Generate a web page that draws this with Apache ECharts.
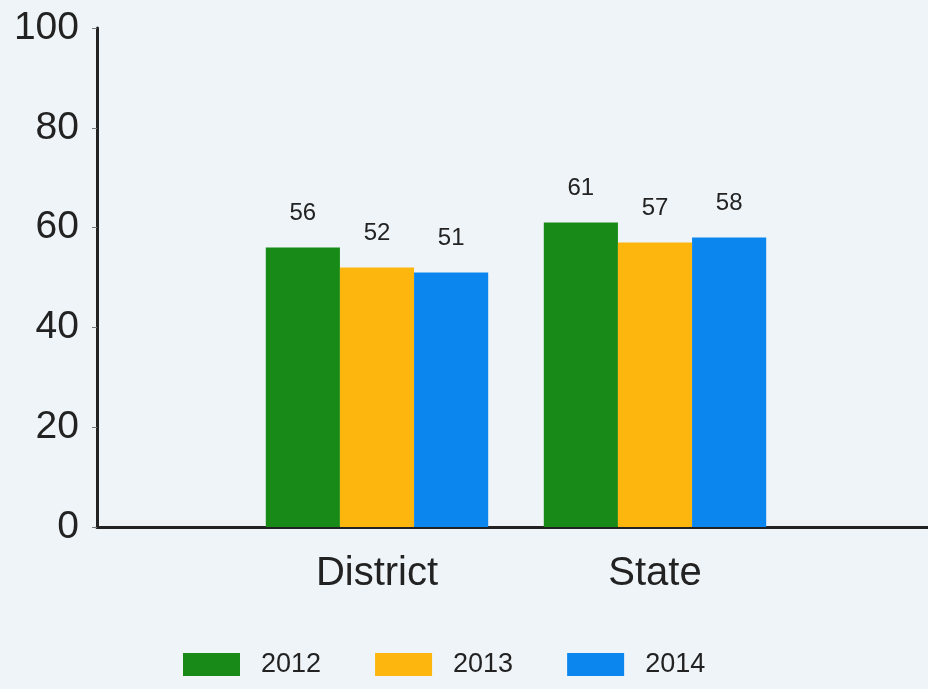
<!DOCTYPE html>
<html>
<head>
<meta charset="utf-8">
<script src="https://cdn.jsdelivr.net/npm/echarts@6/dist/echarts.min.js"></script>
<style>
  html, body { margin: 0; padding: 0; background: #eef4f8; }
  #main { width: 928px; height: 689px; }
</style>
</head>
<body>
<div id="main"></div>
<script>
// chart data
var categories = ['District', 'State'];
var years = ['2012', '2013', '2014'];
var values2012 = [56, 61];
var values2013 = [52, 57];
var values2014 = [51, 58];
var colors = ['#178a17', '#fdb60d', '#0b86ee'];

var chart = echarts.init(document.getElementById('main'));

var seriesData = [values2012, values2013, values2014];
var series = years.map(function (y, i) {
    return {
        name: y,
        type: 'bar',
        xAxisIndex: 1,
        yAxisIndex: 1,
        barGap: '0%',
        barCategoryGap: '20%',
        itemStyle: { color: colors[i] },
        label: {
            show: true,
            position: 'top',
            distance: 22,
            color: '#222',
            fontSize: 24,
            fontFamily: 'Liberation Sans'
        },
        data: seriesData[i]
    };
});

var option = {
    backgroundColor: '#eef4f8',
    animation: false,
    legend: {
        data: years,
        icon: 'rect',
        left: 178,
        bottom: 6,
        itemWidth: 57,
        itemHeight: 23,
        itemGap: 54,
        textStyle: {
            color: '#222',
            fontSize: 27,
            fontFamily: 'Liberation Sans',
            padding: [0, 0, 0, 16]
        }
    },
    grid: [
        // axes frame
        { left: 97, right: 0, top: 28, bottom: 162 },
        // bars
        { left: 238, right: 134, top: 28, bottom: 162 }
    ],
    xAxis: [
        {
            gridIndex: 0,
            type: 'category',
            data: [''],
            axisLine: { lineStyle: { color: '#222', width: 3 } },
            axisTick: { show: false },
            axisLabel: { show: false }
        },
        {
            gridIndex: 1,
            type: 'category',
            data: categories,
            axisLine: { show: false },
            axisTick: { show: false },
            axisLabel: {
                color: '#222',
                fontSize: 40,
                margin: 27,
                fontFamily: 'Liberation Sans'
            }
        }
    ],
    yAxis: [
        {
            gridIndex: 0,
            type: 'value',
            min: 0,
            max: 100,
            interval: 20,
            axisLine: { show: true, lineStyle: { color: '#222', width: 3 } },
            axisTick: { show: true, length: 5, lineStyle: { color: '#777', width: 1 } },
            splitLine: { show: false },
            axisLabel: {
                color: '#222',
                fontSize: 39,
                margin: 18,
                fontFamily: 'Liberation Sans'
            }
        },
        {
            gridIndex: 1,
            type: 'value',
            min: 0,
            max: 100,
            interval: 20,
            show: false,
            splitLine: { show: false }
        }
    ],
    series: series
};

chart.setOption(option);
</script>
</body>
</html>
